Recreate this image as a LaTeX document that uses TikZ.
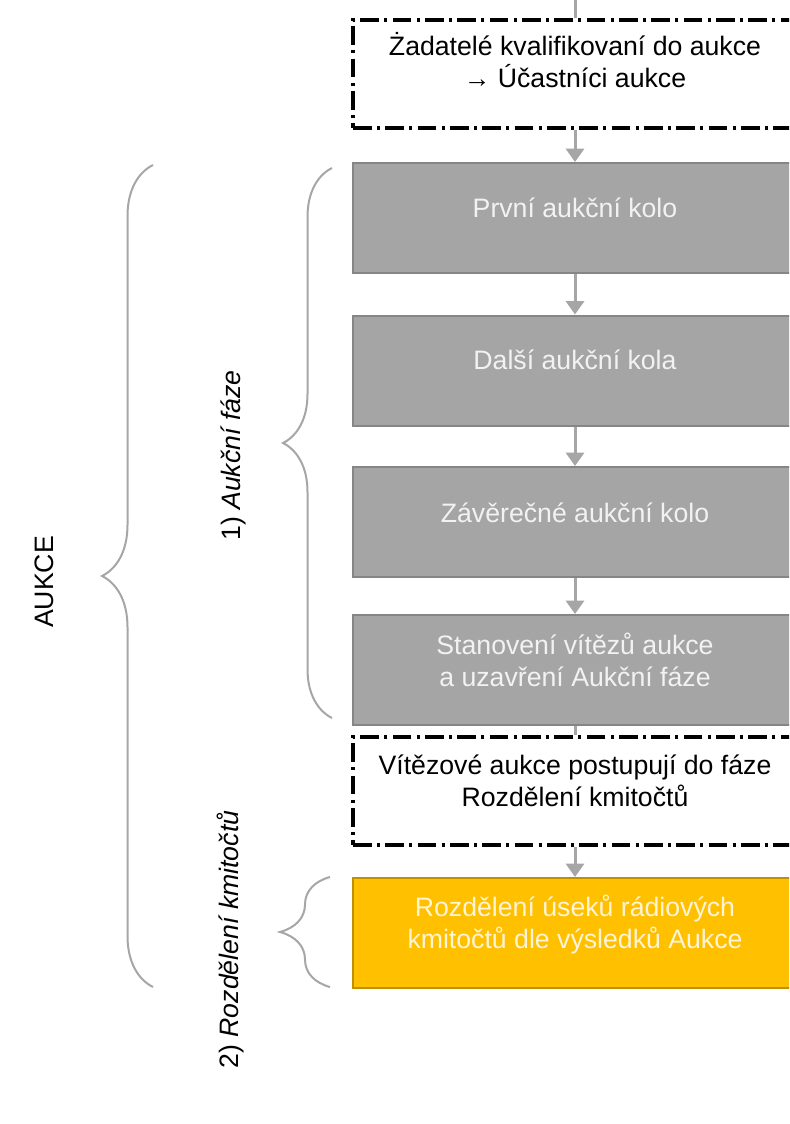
\documentclass[tikz,border=0pt]{standalone}
\usepackage{fontspec}
\setmainfont{Liberation Sans}
\usepackage{xcolor}
\usepackage{tikz}
\usetikzlibrary{arrows.meta, decorations.pathreplacing}

\definecolor{boxgrey}{RGB}{165,165,165}
\definecolor{boxedge}{RGB}{134,134,134}
\definecolor{boxtext}{RGB}{242,242,242}
\definecolor{linkgrey}{RGB}{166,166,166}
\definecolor{gold}{RGB}{255,192,0}
\definecolor{goldedge}{RGB}{191,144,0}
\definecolor{goldtext}{RGB}{255,244,214}

\begin{document}
\begin{tikzpicture}[x=0.75pt,y=0.75pt,yscale=-1,xscale=1,
  greybox/.style={draw=boxedge, fill=boxgrey, line width=1.5pt, minimum width=333pt, minimum height=82.5pt, inner sep=0pt},
  goldbox/.style={greybox, draw=goldedge, fill=gold},
  dashbox/.style={draw=black, line width=2.4pt, dash pattern=on 14pt off 4pt on 2.25pt off 4pt, minimum width=333pt, minimum height=81pt, inner sep=0pt},
  txt/.style={font=\fontsize{20}{24}\selectfont, align=center, inner sep=0pt},
  link/.style={draw=linkgrey, line width=2.25pt},
  arr/.style={link, -{Triangle[width=13.5pt,length=10pt]}},
  curly/.style={decorate, decoration={brace, amplitude=#1}, draw=linkgrey, line width=1.5pt}]
\useasboundingbox (0,0) rectangle (789,1124);
\clip (0,0) rectangle (789,1124);

%Shape: Rectangle [id:dp1]
\node[dashbox] (d1) at (575,74) {};
%Shape: Rectangle [id:dp2]
\node[greybox] (b1) at (575,218) {};
%Shape: Rectangle [id:dp3]
\node[greybox] (b2) at (575,370.5) {};
%Shape: Rectangle [id:dp4]
\node[greybox] (b3) at (575,522) {};
%Shape: Rectangle [id:dp5]
\node[greybox] (b4) at (575,670) {};
%Shape: Rectangle [id:dp6]
\node[dashbox] (d2) at (575,791) {};
%Shape: Rectangle [id:dp7]
\node[goldbox] (b5) at (575,933) {};

%Straight Lines [id:da1]
\coordinate (top) at (575,0);
\draw[link] (top) -- (d1.north);
\draw[arr] (d1.south) -- (b1.north);
\draw[arr] (b1.south) -- (b2.north);
\draw[arr] (b2.south) -- (b3.north);
\draw[arr] (b3.south) -- (b4.north);
\draw[link] (b4.south) -- (d2.north);
\draw[arr] (d2.south) -- (b5.north);

%Shape: Brace [id:dp8]
\draw[curly=38.25pt] (153,987) -- (153,165);
%Shape: Brace [id:dp9]
\draw[curly=36.75pt] (332,718) -- (332,168);
%Shape: Brace [id:dp10]
\draw[curly=37.5pt] (330,987) -- (330,877);

% Text Node
\node[txt] (t1) at (575,60) {Żadatelé kvalifikovaní do aukce\\→ Účastníci aukce};
% Text Node
\node[txt, text=boxtext, anchor=base] (t2) at (575,217) {První aukční kolo};
% Text Node
\node[txt, text=boxtext, anchor=base] (t3) at (575,369) {Další aukční kola};
% Text Node
\node[txt, text=boxtext, anchor=base] (t4) at (575,522) {Závěrečné aukční kolo};
% Text Node
\node[txt, text=boxtext] (t5) at (575,659.5) {Stanovení vítězů aukce\\a uzavření Aukční fáze};
% Text Node
\node[txt] (t6) at (575,781) {Vítězové aukce postupují do fáze\\Rozdělení kmitočtů};
% Text Node
\node[txt, text=goldtext] (t7) at (575,925) {Rozdělení úseků rádiových\\kmitočtů dle výsledků Aukce};
% Text Node
\node[txt, rotate=90, anchor=base] (t8) at (53,582) {AUKCE};
% Text Node
\node[txt, rotate=90, anchor=base] (t9) at (240,455.5) {1) \textit{Aukční fáze}};
% Text Node
\node[txt, rotate=90, anchor=base] (t10) at (238,939.5) {2) \textit{Rozdělení kmitočtů}};

\end{tikzpicture}
\end{document}
